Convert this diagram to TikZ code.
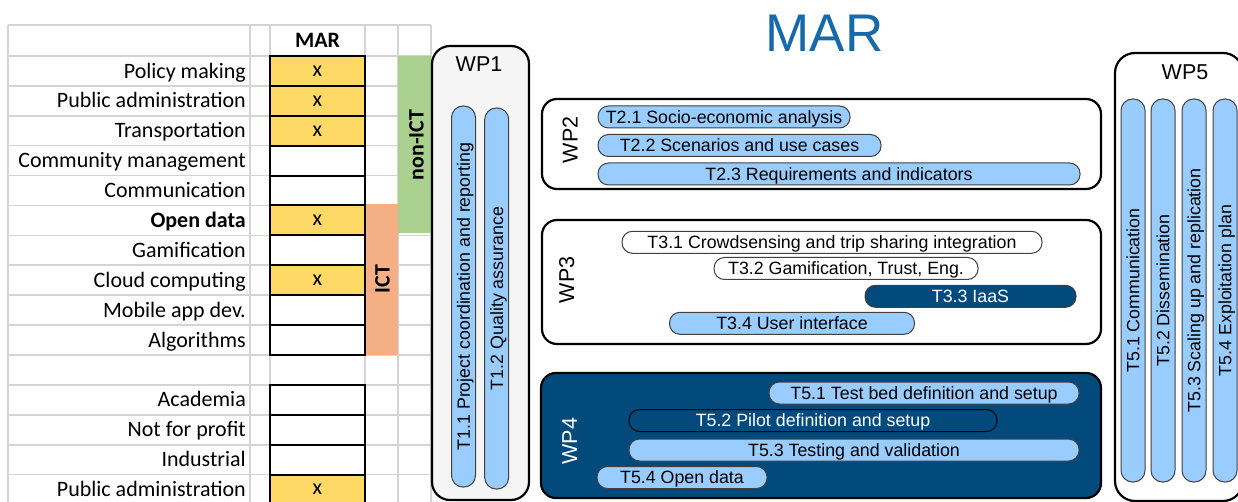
\documentclass[tikz,border=0pt]{standalone}
\usepackage{fontspec}
\setmainfont{Liberation Sans}
\newfontfamily\calibri{Carlito}
\definecolor{gridgray}{HTML}{D4D4D4}
\definecolor{cellyellow}{HTML}{FFD966}
\definecolor{ictgreen}{HTML}{A9D08E}
\definecolor{ictorange}{HTML}{F4B084}
\definecolor{pillblue}{HTML}{99CCFF}
\definecolor{pillline}{HTML}{404040}
\definecolor{darkblue}{HTML}{034A7C}
\definecolor{titleblue}{HTML}{1769AA}
\definecolor{wpgray}{HTML}{F5F5F5}
\begin{document}
\begin{tikzpicture}[x=1pt,y=-1pt,
  gridline/.style={draw=gridgray, line width=1.6pt},
  lab/.style={anchor=east, inner sep=0pt, font=\calibri\fontsize{22}{26}\selectfont, text height=14.2pt, text depth=0pt},
  cell/.style={draw=black, line width=2pt, minimum width=95pt, minimum height=29.9pt, inner sep=0pt, font=\calibri\fontsize{22}{26}\selectfont},
  band/.style={inner sep=0pt, minimum width=33pt},
  bandlab/.style={rotate=90, inner sep=0pt, font=\calibri\bfseries\fontsize{22}{26}\selectfont, text height=14.2pt, text depth=0pt},
  wpbox/.style={draw=black, line width=2.2pt, inner sep=0pt},
  wplab/.style={inner sep=0pt, font=\fontsize{21.5}{24}\selectfont, text height=15.4pt, text depth=0pt},
  pill/.style={draw=pillline, line width=1pt, fill=pillblue, minimum height=22pt, inner sep=0pt, rounded corners=10.5pt, font=\fontsize{17.8}{20}\selectfont, text height=12.7pt, text depth=0pt},
  vpill/.style={pill, rotate=90, minimum height=24pt, rounded corners=11.5pt},
  darkpill/.style={fill=darkblue, text=white}
]
\useasboundingbox (0,0) rectangle (1238,502);
\fill[white] (0,0) rectangle (1238,502);

% ---------- spreadsheet grid ----------
\draw[gridline] (8,25) -- (431,25);
\foreach \k in {0,...,15}{
  \draw[gridline] (8,{56+\k*29.9}) -- (431,{56+\k*29.9});
}
\foreach \x in {8,250,270,365,398,431}{
  \draw[gridline] (\x,25) -- (\x,502);
}

% coloured bands
\node[band, fill=ictgreen, minimum height=177pt] (nonictbox) at (414.5,144.5) {};
\node[bandlab] (nonict) at (416.5,145) {non-ICT};
\node[band, fill=ictorange, minimum height=151pt] (ictbox) at (381.5,279.5) {};
\node[bandlab] (ict) at (382.5,279) {ICT};

% header
\node[inner sep=0pt, font=\calibri\bfseries\fontsize{22}{26}\selectfont, text height=14.2pt, text depth=0pt] (marhead) at (317.5,40.5) {MAR};

% labels
\foreach \i/\t in {1/Policy making,2/Public administration,3/Transportation,4/Community management,5/Communication,6/{\bfseries Open data},7/Gamification,8/Cloud computing,9/Mobile app dev.,10/Algorithms,12/Academia,13/Not for profit,14/Industrial,15/Public administration}{
  \node[lab] (lab\i) at (246,{56+(\i-0.5)*29.9}) {\t};
}

% MAR cells
\foreach \i/\f/\m in {1/cellyellow/x,2/cellyellow/x,3/cellyellow/x,4/white/{},5/white/{},6/cellyellow/x,7/white/{},8/cellyellow/x,9/white/{},10/white/{},12/white/{},13/white/{},14/white/{},15/cellyellow/x}{
  \node[cell, fill=\f] (mar\i) at (317.5,{56+(\i-0.5)*29.9}) {\m};
}

% ---------- title ----------
\node[inner sep=0pt, text=titleblue, font=\fontsize{53}{60}\selectfont, text height=38pt, text depth=0pt] (title) at (824.5,33) {MAR};

% ---------- WP1 ----------
\node[wpbox, fill=wpgray, minimum width=97pt, minimum height=454pt, rounded corners=18pt] (wp1) at (480.5,273) {};
\node[wplab] (wp1lab) at (479,64) {WP1};
\node[vpill, minimum width=381pt] (t11) at (463.5,296.5) {T1.1 Project coordination and reporting};
\node[vpill, minimum width=381pt] (t12) at (496.7,298.5) {T1.2 Quality assurance};

% ---------- WP2 ----------
\node[wpbox, fill=white, minimum width=559pt, minimum height=90pt, rounded corners=15pt] (wp2) at (821.5,144) {};
\node[wplab, rotate=90] (wp2lab) at (570,140) {WP2};
\node[pill, minimum width=252pt] (t21) at (724,117) {T2.1 Socio-economic analysis};
\node[pill, minimum width=283pt] (t22) at (739.5,145.5) {T2.2 Scenarios and use cases};
\node[pill, minimum width=482pt] (t23) at (839,174) {T2.3 Requirements and indicators};

% ---------- WP3 ----------
\node[wpbox, fill=white, minimum width=559pt, minimum height=124pt, rounded corners=15pt] (wp3) at (821.5,282) {};
\node[wplab, rotate=90] (wp3lab) at (566.5,280) {WP3};
\node[pill, fill=white, minimum width=420pt] (t31) at (832,242.3) {T3.1 Crowdsensing and trip sharing integration};
\node[pill, fill=white, minimum width=264pt] (t32) at (846,268.5) {T3.2 Gamification, Trust, Eng.};
\node[pill, darkpill, minimum width=211pt] (t33) at (970.5,296.3) {T3.3 IaaS};
\node[pill, minimum width=245pt] (t34) at (792,323.3) {T3.4 User interface};

% ---------- WP4 ----------
\node[wpbox, fill=darkblue, minimum width=560pt, minimum height=125pt, rounded corners=15pt] (wp4) at (821,435.5) {};
\node[wplab, rotate=90, text=white] (wp4lab) at (569.5,441) {WP4};
\node[pill, minimum width=310pt] (t51) at (924,393) {T5.1 Test bed definition and setup};
\node[pill, darkpill, draw=black, minimum width=368pt] (t52) at (813,420.5) {T5.2 Pilot definition and setup};
\node[pill, minimum width=450pt] (t53) at (854,450) {T5.3 Testing and validation};
\node[pill, minimum width=170pt] (t54) at (682,477.5) {T5.4 Open data};

% ---------- WP5 ----------
\node[wpbox, fill=white, minimum width=128pt, minimum height=448pt, rounded corners=20pt] (wp5) at (1179,277) {};
\node[wplab] (wp5lab) at (1185,72) {WP5};
\node[vpill, minimum width=383pt] (t5a) at (1133,290.5) {T5.1 Communication};
\node[vpill, minimum width=383pt] (t5b) at (1163,290.5) {T5.2 Dissemination};
\node[vpill, minimum width=383pt] (t5c) at (1194,290.5) {T5.3 Scaling up and replication};
\node[vpill, minimum width=383pt] (t5d) at (1225,290.5) {T5.4 Exploitation plan};
\end{tikzpicture}
\end{document}
